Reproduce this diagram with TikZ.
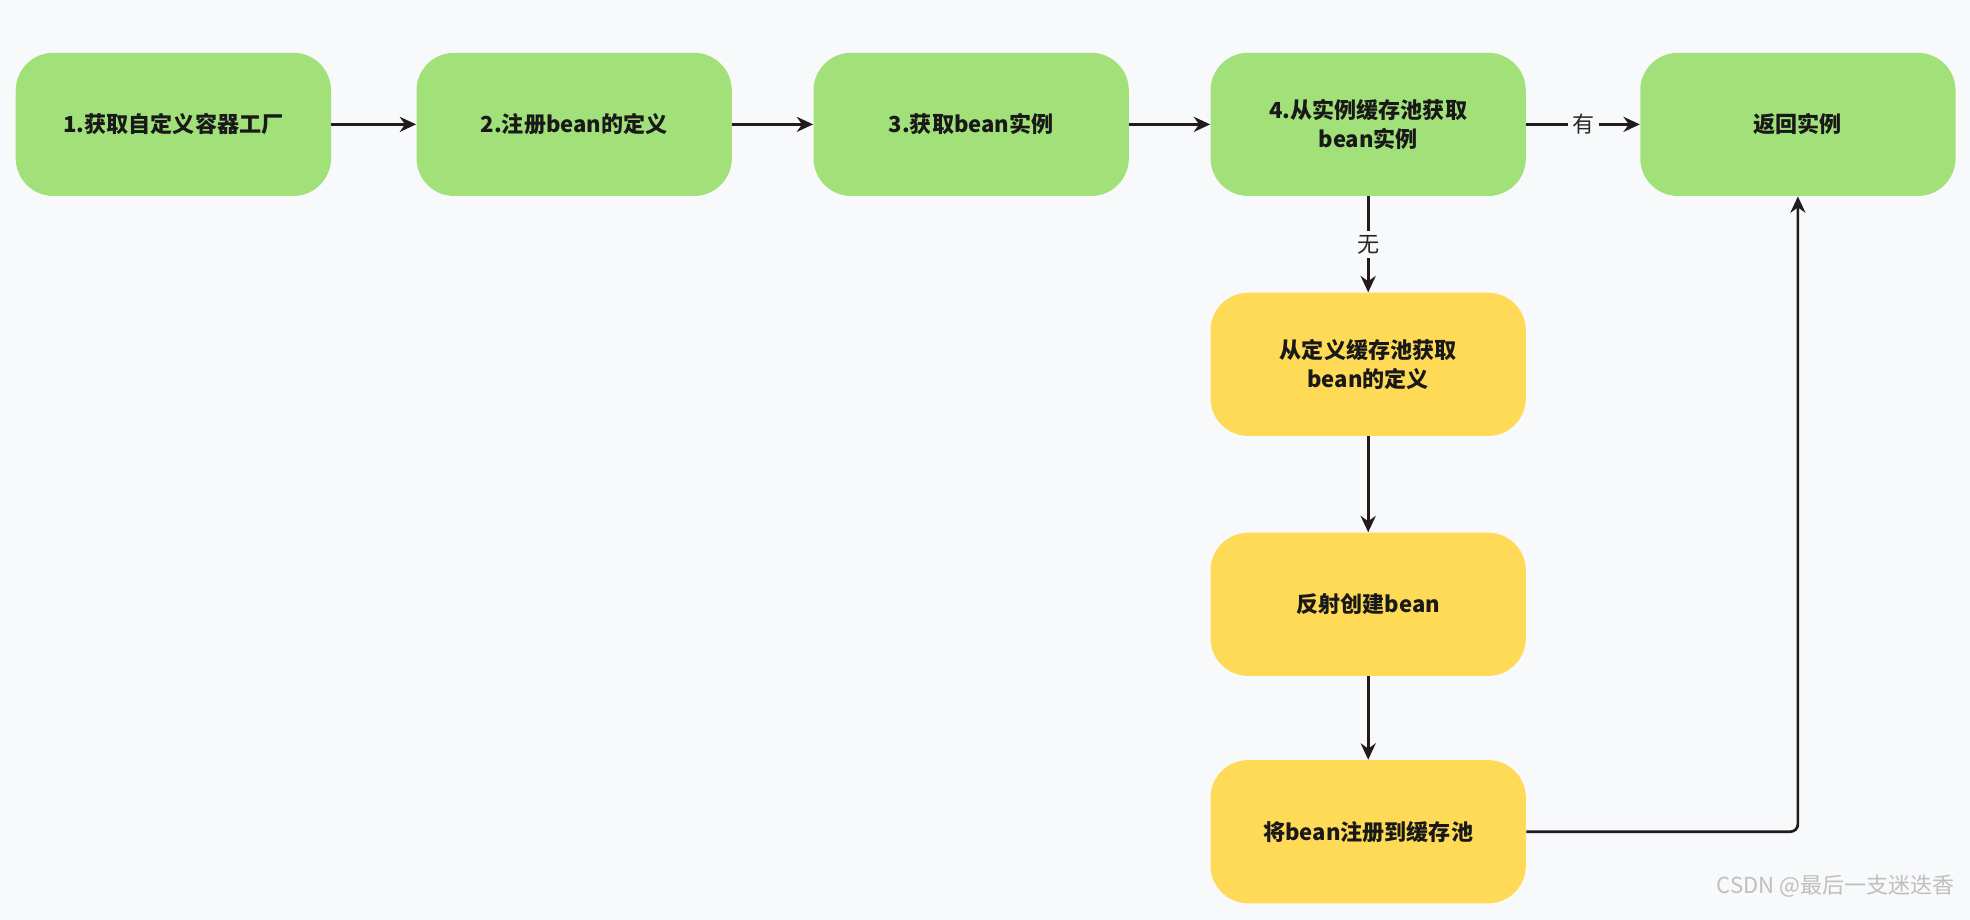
\documentclass[tikz,border=0pt]{standalone}
\usepackage{fontspec}
\setmainfont{Noto Sans CJK SC}
\usetikzlibrary{arrows.meta, positioning}
\definecolor{stepgreen}{HTML}{A2E17A}
\definecolor{stepyellow}{HTML}{FFDA57}
\definecolor{pagebg}{HTML}{F7F9FB}
\definecolor{linedark}{HTML}{231A1E}
\tikzset{
    flow box/.style={rounded corners=0.6cm, minimum width=5.02cm, minimum height=2.28cm,
        align=center, font=\bfseries\fontsize{10}{13}\selectfont, text=black!90},
    green box/.style={flow box, fill=stepgreen},
    yellow box/.style={flow box, fill=stepyellow},
    link/.style={linedark, line width=1.2pt, -{Stealth[length=2.6mm, width=2.4mm]}},
    tag/.style={fill=pagebg, inner sep=2pt, font=\fontsize{10}{12}\selectfont, text=black!85}
}
\begin{document}
\begin{tikzpicture}[x=0.02cm, y=-0.02cm]
    % Background
    \fill[pagebg] (0,0) rectangle (1568,732);
    \useasboundingbox (0,0) rectangle (1568,732);

    % Top row
    \node[green box] (factory) at (138,99) {1.获取自定义容器工厂};
    \node[green box] (register) at (457,99) {2.注册bean的定义};
    \node[green box] (getbean) at (773,99) {3.获取bean实例};
    \node[green box] (cache) at (1089,99) {4.从实例缓存池获取\\bean实例};
    \node[green box] (result) at (1431,99) {返回实例};

    % Creation branch
    \node[yellow box] (definition) at (1089,290) {从定义缓存池获取\\bean的定义};
    \node[yellow box] (reflect) at (1089,481) {反射创建bean};
    \node[yellow box] (store) at (1089,662) {将bean注册到缓存池};

    % Connectors
    \draw[link] (factory) -- (register);
    \draw[link] (register) -- (getbean);
    \draw[link] (getbean) -- (cache);
    \draw[link] (cache) -- node[tag] {有} (result);
    \draw[link] (cache) -- node[tag] {无} (definition);
    \draw[link] (definition) -- (reflect);
    \draw[link] (reflect) -- (store);
    \draw[link, rounded corners=0.12cm] (store.east) -| (result.south);

    \node[anchor=east, text=black!25, font=\fontsize{10}{12}\selectfont] (mark) at (1562,705) {CSDN @最后一支迷迭香};
\end{tikzpicture}
\end{document}
